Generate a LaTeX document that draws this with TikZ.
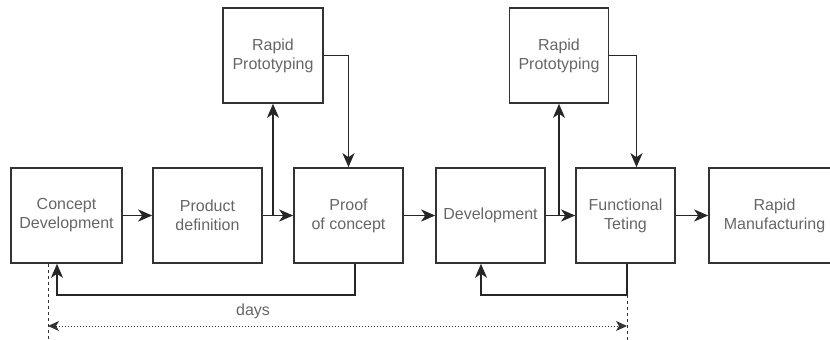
\documentclass[tikz,border=0pt]{standalone}
\usepackage{fontspec}
\setmainfont{Liberation Sans}
\usetikzlibrary{arrows.meta}
\tikzset{
  stage/.style={draw=black!80, line width=1.6pt, text=black!60, align=center,
    inner sep=0pt, minimum height=95pt, font=\fontsize{16}{19}\selectfont},
  flow/.style={line width=1.8pt, draw=black!85, -{Stealth[length=14pt,width=12pt,inset=4pt]}},
  span/.style={line width=1pt, draw=black!80},
}
\begin{document}
\begin{tikzpicture}[x=1pt,y=-1pt,line cap=butt,line join=miter]
    \useasboundingbox (0,0) rectangle (830,340);
    \node[stage, minimum width=111pt] (concept) at (66.5,215.5) {Concept\\Development};
    \node[stage, minimum width=109pt] (product) at (207.5,215.5) {Product\\definition};
    \node[stage, minimum width=109pt] (proof) at (348.5,215.5) {Proof\\of concept};
    \node[stage, minimum width=109pt] (devel) at (490.5,215.5) {Development};
    \node[stage, minimum width=99pt] (testing) at (625.5,215.5) {Functional\\Teting};
    \node[stage, minimum width=131pt] (manuf) at (774.5,215.5) {Rapid\\Manufacturing};
    \node[stage, minimum width=100pt] (protoA) at (273,55.5) {Rapid\\Prototyping};
    \node[stage, minimum width=99pt] (protoB) at (559,55.5) {Rapid\\Prototyping};
    \foreach \a/\b in {concept/product, product/proof, proof/devel, devel/testing, testing/manuf}{
      \draw[flow] (\a.east) -- (\b.west);
    }
    \draw[flow] (protoA.south |- product.east) -- (protoA.south);
    \draw[flow] (protoB.south |- devel.east) -- (protoB.south);
    \draw[flow] (protoA.east) -| (proof.north);
    \draw[flow] (protoB.east) -| ([xshift=11pt]testing.north);
    \coordinate (backA) at (355,295);
    \coordinate (backB) at (627,295);
    \draw[flow] (backA |- proof.south) -- (backA) -| ([xshift=-9.5pt]concept.south);
    \draw[flow] (backB |- testing.south) -- (backB) -| ([xshift=-9.5pt]devel.south);
    \coordinate (startT) at (48,340);
    \coordinate (endT) at (627,340);
    \draw[span, dashed] ([xshift=-18.5pt]concept.south) -- (startT);
    \draw[span, dashed] (backB) -- (endT);
    \draw[span, dotted, {Stealth[length=11pt,width=10pt,inset=3pt]}-{Stealth[length=11pt,width=10pt,inset=3pt]}]
      (48,326) -- (627,326);
    \node[text=black!60, font=\fontsize{16}{19}\selectfont] (days) at (253,311) {days};
  \end{tikzpicture}
\end{document}
